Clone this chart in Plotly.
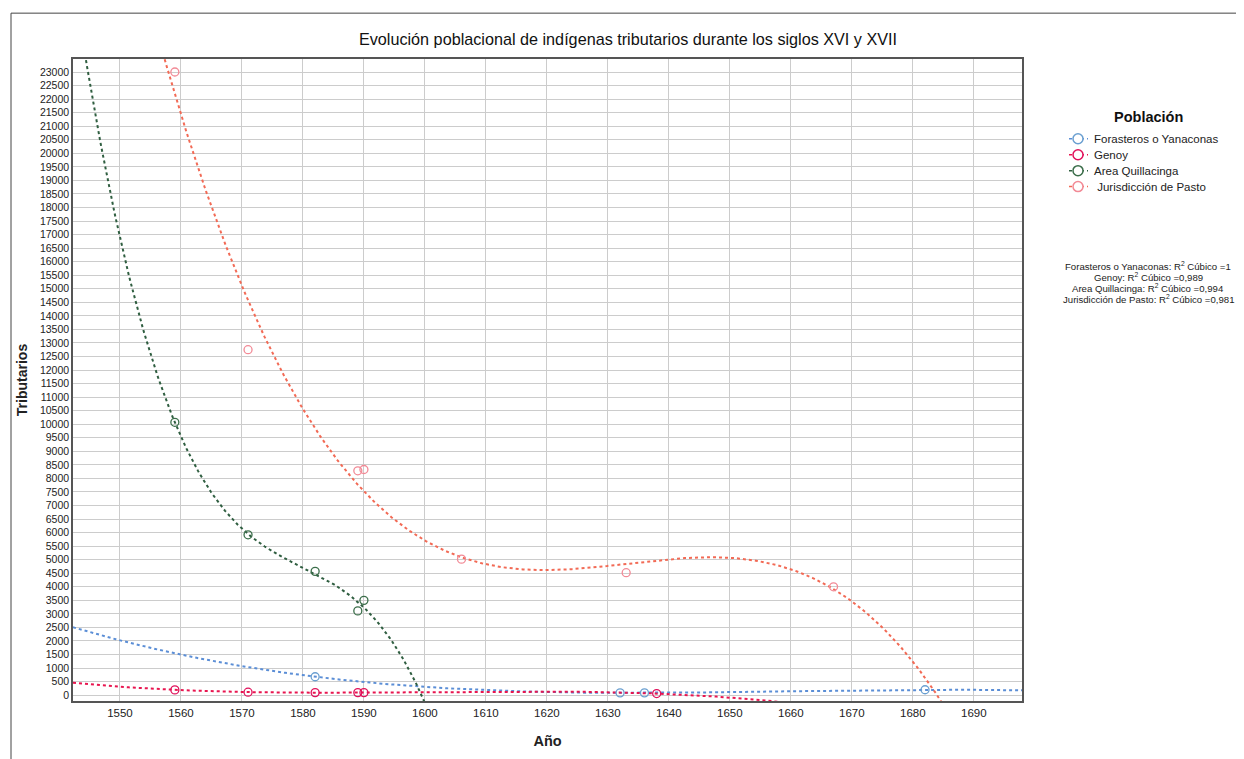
import numpy as np
import plotly.graph_objects as go

# ---- data ----
series_names = ["Forasteros o Yanaconas", "Genoy", "Area Quillacinga", " Jurisdicción de Pasto"]

foras_years = [1582, 1632, 1636, 1682]
foras_vals = [680, 85, 85, 200]

genoy_years = [1559, 1571, 1582, 1589, 1590, 1638]
genoy_vals = [195, 110, 95, 95, 95, 60]

quilla_years = [1559, 1571, 1582, 1589, 1590]
quilla_vals = [10070, 5920, 4570, 3110, 3500]

pasto_years = [1559, 1571, 1589, 1590, 1606, 1633, 1667]
pasto_vals = [23000, 12750, 8280, 8330, 5020, 4520, 4000]

r2_labels = ["Forasteros o Yanaconas: R<sup>2</sup> Cúbico =1",
             "Genoy: R<sup>2</sup> Cúbico =0,989",
             "Area Quillacinga: R<sup>2</sup> Cúbico =0,994",
             "Jurisdicción de Pasto: R<sup>2</sup> Cúbico =0,981"]

x_ticks = list(range(1550, 1691, 10))
y_ticks = list(range(0, 23001, 500))
y_ticklabels = [str(v) for v in y_ticks]

marker_colors = ["#6a9fd0", "#e0105a", "#3b6e4a", "#f28a96"]
line_colors = ["#5b8ed6", "#e8154f", "#2f5e40", "#f26a55"]

X_RANGE = [1542.3, 1697.9]
Y_RANGE = [-215, 23480]

# page has an 8px body margin: figure coordinates = reference pixels - 8
OFF = 8
W, H = 1244 - OFF, 759 - OFF
PL, PR, PT, PB = 73 - OFF, 1022 - OFF, 59 - OFF, 703 - OFF
pw, ph = PR - PL, PB - PT


def px(xr):
    return (xr - OFF - PL) / pw


def py(yr):
    return 1 - (yr - OFF - PT) / ph


fig = go.Figure()

data = [(foras_years, foras_vals), (genoy_years, genoy_vals),
        (quilla_years, quilla_vals), (pasto_years, pasto_vals)]

xs = np.linspace(X_RANGE[0], X_RANGE[1], 600)
for i, (yrs, vals) in enumerate(data):
    coef = np.polyfit(np.array(yrs, float) - 1600, np.array(vals, float), 3)
    ys = np.polyval(coef, xs - 1600)
    fig.add_trace(go.Scatter(
        x=xs, y=ys, mode="lines", showlegend=False, hoverinfo="skip",
        line=dict(color=line_colors[i], width=2, dash="dot"),
    ))

for i, (yrs, vals) in enumerate(data):
    fig.add_trace(go.Scatter(
        x=yrs, y=vals, mode="markers", name=series_names[i], showlegend=False,
        marker=dict(symbol="circle-open", size=8, color=marker_colors[i],
                    line=dict(width=1.3, color=marker_colors[i])),
    ))

font = "Liberation Sans, Arial, sans-serif"

fig.update_layout(
    width=W, height=H,
    paper_bgcolor="white", plot_bgcolor="white",
    margin=dict(l=PL, r=W - PR, t=PT, b=H - PB),
    font=dict(family=font, size=11, color="#222222"),
    title=dict(text="Evolución poblacional de indígenas tributarios durante los siglos XVI y XVII",
               x=(628 - OFF) / W, xanchor="center", y=1 - (39 - OFF) / H, yanchor="middle",
               font=dict(size=16.2, color="#111111", family=font)),
    xaxis=dict(range=X_RANGE, tickvals=x_ticks, ticks="", showgrid=True,
               gridcolor="#cccccc", gridwidth=1, zeroline=False,
               showline=True, linecolor="#555555", linewidth=1.5, mirror=True,
               tickfont=dict(size=11.5, color="#222222"),
               title=dict(text="<b>Año</b>", font=dict(size=14.5, color="#222222"), standoff=18)),
    yaxis=dict(range=Y_RANGE, tickvals=y_ticks, ticktext=y_ticklabels, ticks="", showgrid=True,
               gridcolor="#cccccc", gridwidth=1, zeroline=False,
               showline=True, linecolor="#555555", linewidth=1.5, mirror=True,
               tickfont=dict(size=10.5, color="#222222"),
               title=dict(text="<b>Tributarios</b>", font=dict(size=14, color="#222222"), standoff=9)),
    showlegend=False,
)

# legend (drawn by hand to match the compact item spacing)
fig.add_annotation(xref="paper", yref="paper", x=px(1148), y=py(117), xanchor="center", yanchor="middle",
                   showarrow=False, text="<b>Población</b>", font=dict(size=14.5, color="#111111", family=font))
leg_y = [139, 155, 171, 187]
for i, name in enumerate(series_names):
    fig.add_shape(type="line", xref="paper", yref="paper", x0=px(1069), x1=px(1088),
                  y0=py(leg_y[i]), y1=py(leg_y[i]), line=dict(color=line_colors[i], width=1.5, dash="dot"))
    fig.add_shape(type="circle", xref="paper", yref="paper", xsizemode="pixel", ysizemode="pixel",
                  xanchor=px(1078), yanchor=py(leg_y[i]), x0=-5, x1=5, y0=-5, y1=5,
                  fillcolor="white", line=dict(color=marker_colors[i], width=1.5))
    fig.add_annotation(xref="paper", yref="paper", x=px(1092), y=py(leg_y[i]), xanchor="left",
                       yanchor="middle", showarrow=False, text=name,
                       font=dict(size=11.5, color="#222222", family=font))

# R^2 text block
r2_y = [267, 278, 289, 300]
for i, t in enumerate(r2_labels):
    fig.add_annotation(
        xref="paper", yref="paper", x=px(1148), y=py(r2_y[i]),
        xanchor="center", yanchor="middle", showarrow=False,
        text=t, font=dict(size=9.6, color="#222222", family=font),
    )

# outer frame lines (left and top)
fx0 = px(11)
fy1 = py(13)
fig.add_shape(type="line", xref="paper", yref="paper", x0=fx0, x1=fx0, y0=fy1, y1=py(780),
              line=dict(color="#444444", width=1))
fig.add_shape(type="line", xref="paper", yref="paper", x0=fx0, x1=px(1260), y0=fy1, y1=fy1,
              line=dict(color="#444444", width=1))

fig.write_html("out.html")
